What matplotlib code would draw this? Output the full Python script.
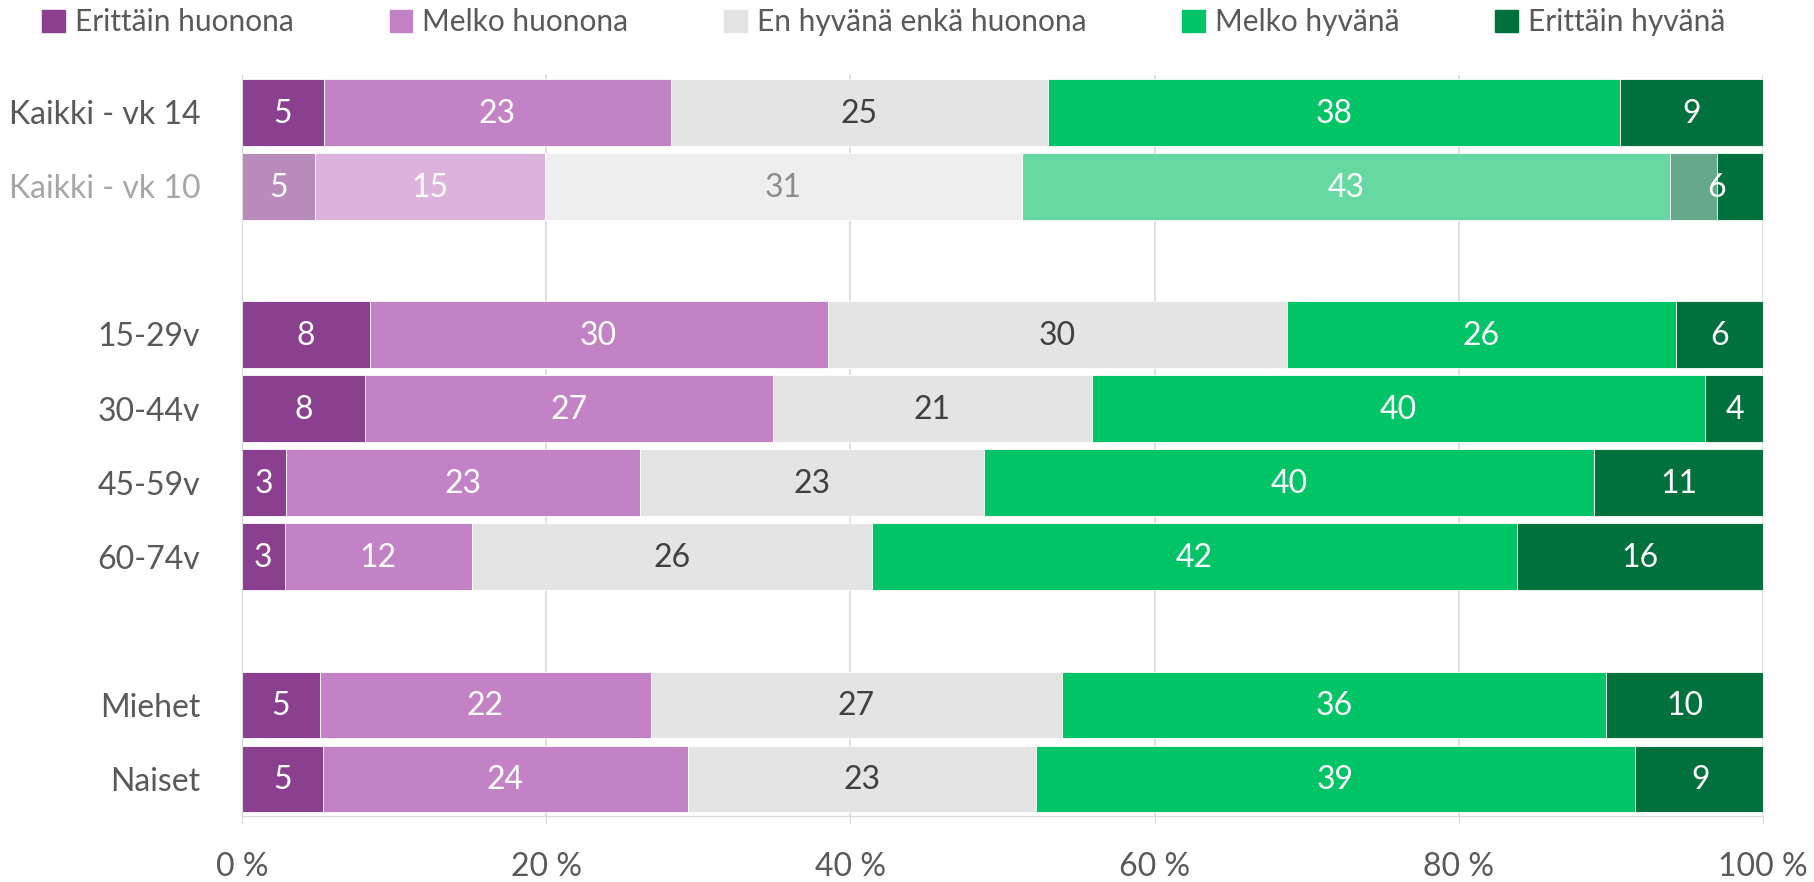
import matplotlib
matplotlib.use("Agg")
import matplotlib.pyplot as plt
import numpy as np

plt.rcParams['font.family'] = ['Lato', 'DejaVu Sans']

series = ['Erittäin huonona', 'Melko huonona', 'En hyvänä enkä huonona',
          'Melko hyvänä', 'Erittäin hyvänä']
rows = ['Kaikki - vk 14', 'Kaikki - vk 10', '', '15-29v', '30-44v', '45-59v',
        '60-74v', '', 'Miehet', 'Naiset']

# shares (%) per row, one list per series; None = spacer row
erittain_huono = [5.4, 4.8, None, 8.4, 8.1, 2.9, 2.8, None, 5.1, 5.3]
melko_huono = [22.8, 15.1, None, 30.1, 26.8, 23.3, 12.3, None, 21.8, 24.0]
ei_kumpikaan = [24.8, 31.4, None, 30.2, 21.0, 22.6, 26.3, None, 27.0, 22.9]
melko_hyva = [37.6, 42.6, None, 25.6, 40.3, 40.1, 42.4, None, 35.8, 39.4]
erittain_hyva = [9.4, 6.1, None, 5.7, 3.9, 11.1, 16.2, None, 10.4, 8.6]

colors = ['#8B3F8F', '#C382C6', '#E4E4E4', '#00C466', '#00703C']
faded = ['#B98BBB', '#DBB3DD', '#EEEEEE', '#66D9A3', '#66A98A']
label_colors = ['white', 'white', '#404040', 'white', 'white']
faded_label_colors = ['white', 'white', '#8C8C8C', 'white', 'white']
faded_row = 1
grey = '#595959'

data = [erittain_huono, melko_huono, ei_kumpikaan, melko_hyva, erittain_hyva]

fig = plt.figure(figsize=(18.15, 8.82), dpi=100)
ax = fig.add_axes([0.1333, 0.0748, 0.838, 0.840])

y = np.arange(len(rows))
left = np.zeros(len(rows))
for s, vals in enumerate(data):
    for i, v in enumerate(vals):
        if v is None:
            continue
        c = faded[s] if i == faded_row else colors[s]
        ax.barh(y[i], v, left=left[i], height=0.9, color=c,
                edgecolor='white', linewidth=0.6)
        if i == faded_row and s == 4:
            # solid part drawn over the right half of this segment
            ax.barh(y[i], v / 2, left=left[i] + v / 2, height=0.9,
                    color=colors[s], edgecolor='white', linewidth=0.6)
        tc = faded_label_colors[s] if i == faded_row else label_colors[s]
        ax.text(left[i] + v / 2, y[i] + 0.02, f"{round(v):d}", ha='center',
                va='center', fontsize=23, color=tc)
        left[i] += v

ax.set_ylim(9.5, -0.5)
ax.set_xlim(0, 100)
ax.set_yticks([i for i, r in enumerate(rows) if r])
ax.set_yticklabels([r for r in rows if r], fontsize=23)
for lab in ax.get_yticklabels():
    lab.set_color('#A6A6A6' if lab.get_text() == rows[faded_row] else grey)
ax.tick_params(axis='y', length=0, pad=30)

xt = [0, 20, 40, 60, 80, 100]
ax.set_xticks(xt)
ax.set_xticklabels([f"{v} %" for v in xt], fontsize=23, color=grey)
ax.tick_params(axis='x', length=6, color='#D9D9D9', pad=20)

ax.grid(axis='x', color='#D9D9D9', linewidth=1.2)
ax.set_axisbelow(True)
for sp in ['top', 'right']:
    ax.spines[sp].set_visible(False)
ax.spines['left'].set_color('#D9D9D9')
ax.spines['bottom'].set_color('#D9D9D9')

handles = [plt.Rectangle((0, 0), 1, 1, color=c) for c in colors]
fig.legend(handles, series, loc='center', bbox_to_anchor=(0.487, 0.975),
           ncol=5, frameon=False, fontsize=21.5, labelcolor=grey,
           handlelength=0.75, handleheight=0.75, handletextpad=0.35,
           columnspacing=3.2)

fig.savefig('out.png', dpi=100)
